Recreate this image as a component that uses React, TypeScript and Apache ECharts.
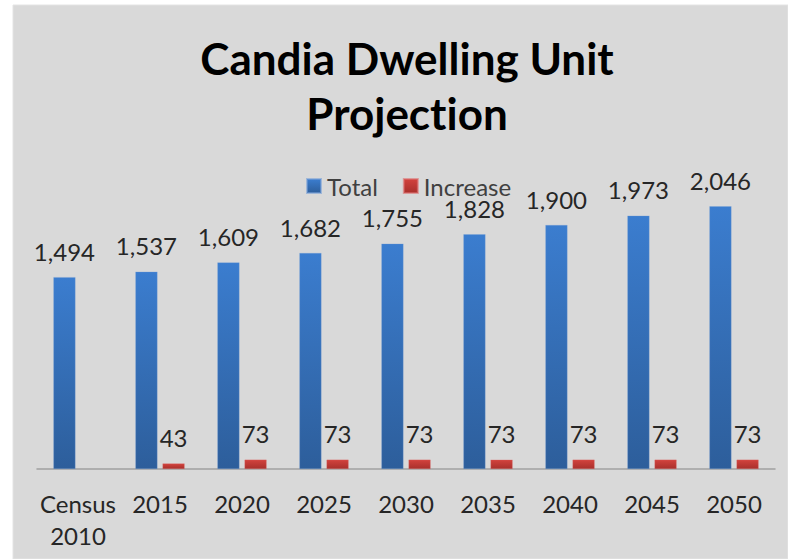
import React, { useEffect, useRef } from "react";
import * as echarts from "echarts";

const categories = ["Census\n2010", "2015", "2020", "2025", "2030", "2035", "2040", "2045", "2050"];
const totalValues = [1494, 1537, 1609, 1682, 1755, 1828, 1900, 1973, 2046];
const increaseValues: (number | null)[] = [null, 43, 73, 73, 73, 73, 73, 73, 73];
const seriesNames = ["Total", "Increase"];
const titleLines = ["Candia Dwelling Unit", "Projection"];

const FONT = "Lato, 'Open Sans', sans-serif";

export default function App() {
  const ref = useRef<HTMLDivElement>(null);
  useEffect(() => {
    if (!ref.current) return;
    const chart = echarts.init(ref.current, undefined, { renderer: "svg" });
    const fmt = (p: any) =>
      p.value == null ? "" : Number(p.value).toLocaleString("en-US");
    chart.setOption({
      animation: false,
      backgroundColor: "#ffffff",
      textStyle: { fontFamily: FONT },
      graphic: [
        {
          type: "rect",
          z: -10,
          silent: true,
          shape: { x: 13, y: 5, width: 775, height: 554 },
          style: { fill: "#d9d9d9", stroke: "#e4e4e4", lineWidth: 1 },
        },
      ],
      title: {
        text: titleLines.join("\n"),
        left: 402,
        top: 25,
        textAlign: "center",
        textStyle: {
          fontFamily: FONT,
          fontWeight: "bold",
          fontSize: 44,
          lineHeight: 55,
          color: "#000000",
        },
      },
      legend: {
        data: seriesNames,
        left: 301,
        top: 169,
        itemWidth: 14,
        itemHeight: 14,
        itemGap: 25,
        icon: "rect",
        textStyle: { fontFamily: FONT, fontSize: 24, color: "#404040", padding: [0, 0, 0, 1] },
      },
      grid: { left: 37, right: 13, top: 148, bottom: 90, containLabel: false },
      xAxis: {
        type: "category",
        data: categories,
        axisLine: { lineStyle: { color: "#a0a0a0", width: 1.5 } },
        axisTick: { show: false },
        axisLabel: {
          fontFamily: FONT,
          fontSize: 24,
          lineHeight: 32,
          color: "#262626",
          margin: 18,
          interval: 0,
        },
      },
      yAxis: {
        type: "value",
        min: 0,
        max: 2500,
        show: false,
        splitLine: { show: false },
      },
      series: [
        {
          name: seriesNames[0],
          type: "bar",
          data: totalValues,
          barCategoryGap: "40%",
          barGap: "23%",
          itemStyle: {
            color: new echarts.graphic.LinearGradient(0, 0, 0, 1, [
              { offset: 0, color: "#3b7dcf" },
              { offset: 1, color: "#2d5e9b" },
            ]),
            borderColor: "rgba(120,160,215,0.6)",
            borderWidth: 0.5,
          },
          label: {
            show: true,
            position: "top",
            distance: 14,
            fontFamily: FONT,
            fontSize: 24,
            color: "#262626",
            formatter: fmt,
          },
        },
        {
          name: seriesNames[1],
          type: "bar",
          data: increaseValues,
          barCategoryGap: "40%",
          barGap: "23%",
          itemStyle: {
            color: new echarts.graphic.LinearGradient(0, 0, 0, 1, [
              { offset: 0, color: "#d2423d" },
              { offset: 1, color: "#a9302c" },
            ]),
            borderColor: "rgba(220,110,110,0.6)",
            borderWidth: 0.5,
          },
          label: {
            show: true,
            position: "top",
            distance: 14,
            fontFamily: FONT,
            fontSize: 24,
            color: "#262626",
            formatter: fmt,
          },
        },
      ],
    });
    return () => chart.dispose();
  }, []);
  return (
    <div
      ref={ref}
      style={{
        position: "fixed",
        left: 0,
        top: 0,
        width: 788,
        height: 559,
        fontVariantLigatures: "none",
      }}
    />
  );
}
